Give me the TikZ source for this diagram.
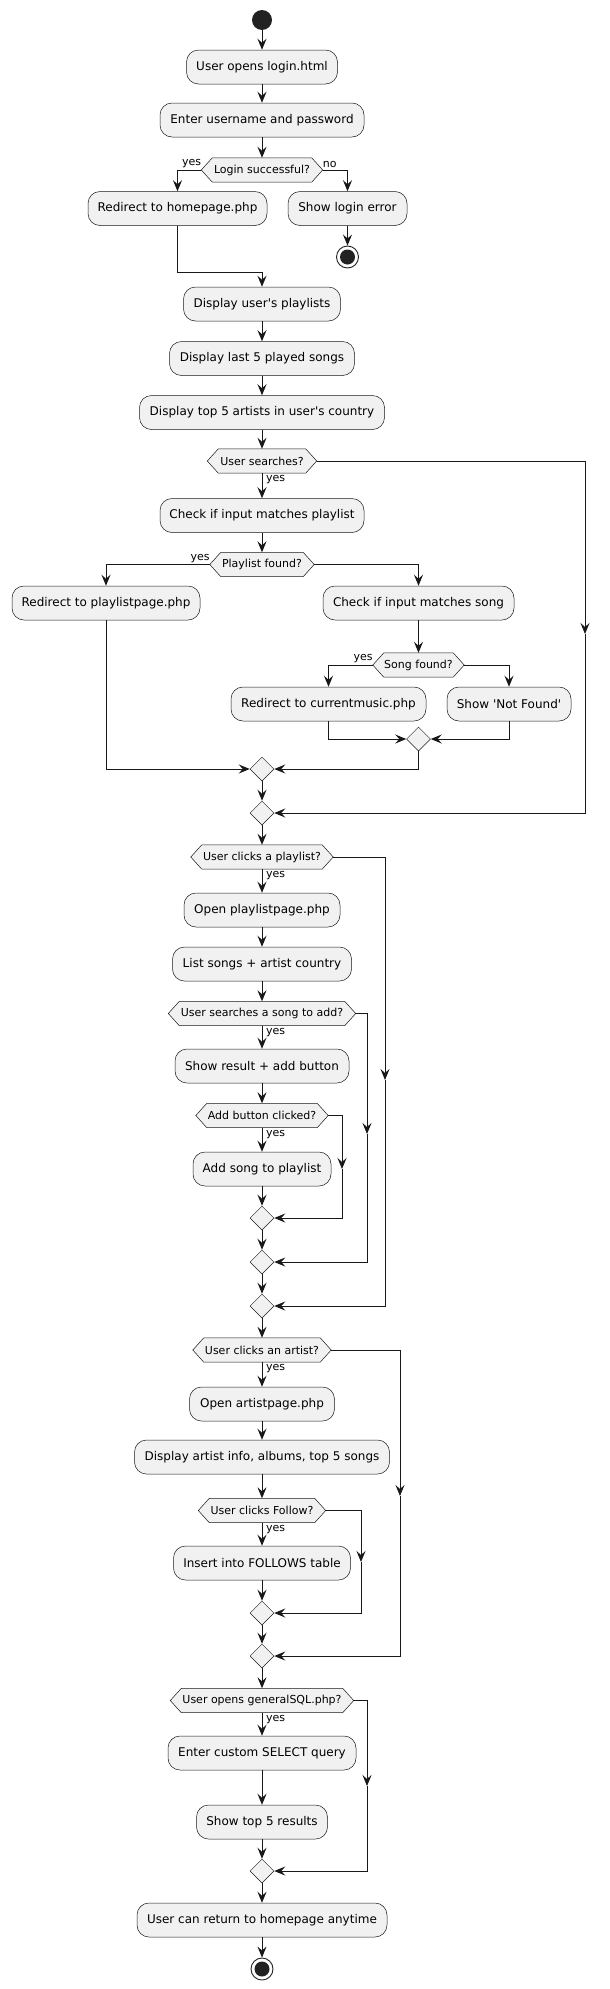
\documentclass[tikz,border=0pt]{standalone}
\usepackage{fontspec}
\setmainfont{DejaVu Sans}
\usetikzlibrary{arrows.meta,shapes.geometric}
\definecolor{bd}{HTML}{181818}
\definecolor{bf}{HTML}{F1F1F1}
\definecolor{dk}{HTML}{222222}
\pgfdeclarelayer{paper}
\pgfdeclarelayer{hexlayer}
\pgfsetlayers{paper,hexlayer,main}
\begin{document}
\begin{tikzpicture}[x=1pt,y=-1pt,
  actbox/.style={draw=bd, fill=bf, line width=0.5pt, rounded corners=12pt, inner sep=0pt, minimum height=34pt, font=\fontsize{12}{14}\selectfont},
  hexnode/.style={inner sep=0pt, minimum height=24pt, font=\fontsize{11}{13}\selectfont},
  hexline/.style={draw=bd, fill=bf, line width=0.5pt},
  mergenode/.style={diamond, draw=bd, fill=bf, line width=0.5pt, inner sep=0pt, minimum width=24pt, minimum height=24pt},
  startnode/.style={circle, fill=dk, inner sep=0pt, minimum size=20pt},
  stopnode/.style={circle, draw=dk, fill=white, line width=0.9pt, inner sep=0pt, minimum size=22pt, path picture={\fill[dk] (path picture bounding box.center) circle (7.5pt);}},
  arr/.style={draw=bd, line width=1pt, -{Stealth[length=11pt,width=9pt,inset=4pt]}},
  lbl/.style={font=\fontsize{11}{13}\selectfont, inner sep=0pt},
]
\begin{pgfonlayer}{paper}
\fill[white] (0,0) rectangle (610,1989);
\end{pgfonlayer}
\useasboundingbox (0,0) rectangle (610,1989);

% nodes
\node[startnode] (start) at (262,20) {};
\node[actbox, minimum width=151pt] (b1) at (262,67) {User opens login.html};
\node[actbox, minimum width=204pt] (b2) at (262,120) {Enter username and password};
\node[hexnode, minimum width=121pt] (d1) at (262,170) {Login successful?};
\node[actbox, minimum width=179pt] (b3) at (177.5,208.5) {Redirect to homepage.php};
\node[actbox, minimum width=119pt] (b4) at (347.5,208.5) {Show login error};
\node[stopnode] (stop1) at (347.5,257) {};
\coordinate (j1) at (262,272);
\node[actbox, minimum width=157pt] (b5) at (262,304) {Display user\textquotesingle s playlists};
\node[actbox, minimum width=185pt] (b6) at (262,358.5) {Display last 5 played songs};
\node[actbox, minimum width=245pt] (b7) at (262,412.5) {Display top 5 artists in user\textquotesingle s country};
\node[hexnode, minimum width=109pt] (d2) at (262,461) {User searches?};
\node[actbox, minimum width=204pt] (b8) at (262,515.5) {Check if input matches playlist};
\node[hexnode, minimum width=104pt] (d3) at (262,564.5) {Playlist found?};
\node[actbox, minimum width=188pt] (b9) at (106,603) {Redirect to playlistpage.php};
\node[actbox, minimum width=191pt] (b10) at (418.5,603) {Check if input matches song};
\node[hexnode, minimum width=91pt] (d4) at (418.5,665) {Song found?};
\node[actbox, minimum width=195pt] (b11) at (328.5,704) {Redirect to currentmusic.php};
\node[actbox, minimum width=124pt] (b12) at (509,704) {Show \textquotesingle Not Found\textquotesingle};
\node[mergenode] (m1) at (418.5,739) {};
\node[mergenode] (m2) at (262,769) {};
\node[mergenode] (m3) at (262,813) {};
\coordinate (s2) at (585,634);
\node[hexnode, minimum width=142pt] (d5) at (262,857) {User clicks a playlist?};
\node[actbox, minimum width=156pt] (b13) at (262,910) {Open playlistpage.php};
\node[actbox, minimum width=179pt] (b14) at (262,964) {List songs + artist country};
\node[hexnode, minimum width=187pt] (d6) at (262,1013.5) {User searches a song to add?};
\node[actbox, minimum width=174pt] (b15) at (262,1066) {Show result + add button};
\node[hexnode, minimum width=132pt] (d7) at (262,1115.5) {Add button clicked?};
\node[actbox, minimum width=138pt] (b16) at (262,1169) {Add song to playlist};
\node[mergenode] (mA) at (262,1218) {};
\node[mergenode] (mB) at (262,1262) {};
\node[mergenode] (mC) at (262,1306) {};
\coordinate (s5) at (385,1080);
\coordinate (s6) at (367,1134);
\coordinate (s7) at (342,1169);
\node[hexnode, minimum width=138pt] (d8) at (262,1350) {User clicks an artist?};
\node[actbox, minimum width=145pt] (b17) at (262,1404) {Open artistpage.php};
\node[actbox, minimum width=255pt] (b18) at (262,1457) {Display artist info, albums, top 5 songs};
\node[hexnode, minimum width=127pt] (d9) at (262,1510.5) {User clicks Follow?};
\node[actbox, minimum width=177pt] (b19) at (262,1563) {Insert into FOLLOWS table};
\node[mergenode] (mD) at (262,1613) {};
\node[mergenode] (mE) at (262,1656) {};
\coordinate (s8) at (400,1496);
\coordinate (s9) at (361,1562);
\node[hexnode, minimum width=183pt] (d10) at (262,1700.5) {User opens generalSQL.php?};
\node[actbox, minimum width=188pt] (b20) at (262,1753) {Enter custom SELECT query};
\node[actbox, minimum width=131pt] (b21) at (262,1822) {Show top 5 results};
\node[mergenode] (mF) at (262,1871) {};
\coordinate (s10) at (367,1786);
\node[actbox, minimum width=250pt] (b22) at (262,1920) {User can return to homepage anytime};
\node[stopnode] (stop2) at (262,1969) {};

% hexagons behind the decision texts
\begin{pgfonlayer}{hexlayer}
\foreach \n in {d1,d2,d3,d4,d5,d6,d7,d8,d9,d10}{
  \path[hexline] (\n.west) -- ([xshift=11pt]\n.north west) -- ([xshift=-11pt]\n.north east) -- (\n.east) -- ([xshift=-11pt]\n.south east) -- ([xshift=11pt]\n.south west) -- cycle;
}
\end{pgfonlayer}

% labels
\node[lbl, anchor=south east] (l1) at ([yshift=2pt]d1.west) {yes};
\node[lbl, anchor=south west] (l2) at ([yshift=2pt]d1.east) {no};
\node[lbl, anchor=north west] (l3) at ([xshift=4pt,yshift=-2pt]d2.south) {yes};
\node[lbl, anchor=south east] (l4) at ([yshift=2pt]d3.west) {yes};
\node[lbl, anchor=south east] (l5) at ([yshift=2pt]d4.west) {yes};
\node[lbl, anchor=north west] (l6) at ([xshift=4pt,yshift=-2pt]d5.south) {yes};
\node[lbl, anchor=north west] (l7) at ([xshift=4pt,yshift=-2pt]d6.south) {yes};
\node[lbl, anchor=north west] (l8) at ([xshift=4pt,yshift=-2pt]d7.south) {yes};
\node[lbl, anchor=north west] (l9) at ([xshift=4pt,yshift=-2pt]d8.south) {yes};
\node[lbl, anchor=north west] (l10) at ([xshift=4pt,yshift=-2pt]d9.south) {yes};
\node[lbl, anchor=north west] (l11) at ([xshift=4pt,yshift=-2pt]d10.south) {yes};

% connectors
\draw[arr] (start.south) -- (b1.north);
\draw[arr] (b1.south) -- (b2.north);
\draw[arr] (b2.south) -- (d1.north);
\draw[arr] (d1.west) -| (b3.north);
\draw[arr] (d1.east) -| (b4.north);
\draw[arr] (b4.south) -- (stop1.north);
\draw[arr] (b3.south) |- (j1) -- (b5.north);
\draw[arr] (b5.south) -- (b6.north);
\draw[arr] (b6.south) -- (b7.north);
\draw[arr] (b7.south) -- (d2.north);
\draw[arr] (d2.south) -- (b8.north);
\draw[arr] (d2.east) -| (s2);
\draw[arr] (s2) |- (m3.east);
\draw[arr] (b8.south) -- (d3.north);
\draw[arr] (d3.west) -| (b9.north);
\draw[arr] (d3.east) -| (b10.north);
\draw[arr] (b10.south) -- (d4.north);
\draw[arr] (d4.west) -| (b11.north);
\draw[arr] (d4.east) -| (b12.north);
\draw[arr] (b11.south) |- (m1.west);
\draw[arr] (b12.south) |- (m1.east);
\draw[arr] (b9.south) |- (m2.west);
\draw[arr] (m1.south) |- (m2.east);
\draw[arr] (m2.south) -- (m3.north);
\draw[arr] (m3.south) -- (d5.north);
\draw[arr] (d5.south) -- (b13.north);
\draw[arr] (b13.south) -- (b14.north);
\draw[arr] (b14.south) -- (d6.north);
\draw[arr] (d6.south) -- (b15.north);
\draw[arr] (b15.south) -- (d7.north);
\draw[arr] (d7.south) -- (b16.north);
\draw[arr] (b16.south) -- (mA.north);
\draw[arr] (d7.east) -| (s7);
\draw[arr] (s7) |- (mA.east);
\draw[arr] (mA.south) -- (mB.north);
\draw[arr] (d6.east) -| (s6);
\draw[arr] (s6) |- (mB.east);
\draw[arr] (mB.south) -- (mC.north);
\draw[arr] (d5.east) -| (s5);
\draw[arr] (s5) |- (mC.east);
\draw[arr] (mC.south) -- (d8.north);
\draw[arr] (d8.south) -- (b17.north);
\draw[arr] (b17.south) -- (b18.north);
\draw[arr] (b18.south) -- (d9.north);
\draw[arr] (d9.south) -- (b19.north);
\draw[arr] (b19.south) -- (mD.north);
\draw[arr] (d9.east) -| (s9);
\draw[arr] (s9) |- (mD.east);
\draw[arr] (mD.south) -- (mE.north);
\draw[arr] (d8.east) -| (s8);
\draw[arr] (s8) |- (mE.east);
\draw[arr] (mE.south) -- (d10.north);
\draw[arr] (d10.south) -- (b20.north);
\draw[arr] (b20.south) -- (b21.north);
\draw[arr] (b21.south) -- (mF.north);
\draw[arr] (d10.east) -| (s10);
\draw[arr] (s10) |- (mF.east);
\draw[arr] (mF.south) -- (b22.north);
\draw[arr] (b22.south) -- (stop2.north);
\end{tikzpicture}
\end{document}
